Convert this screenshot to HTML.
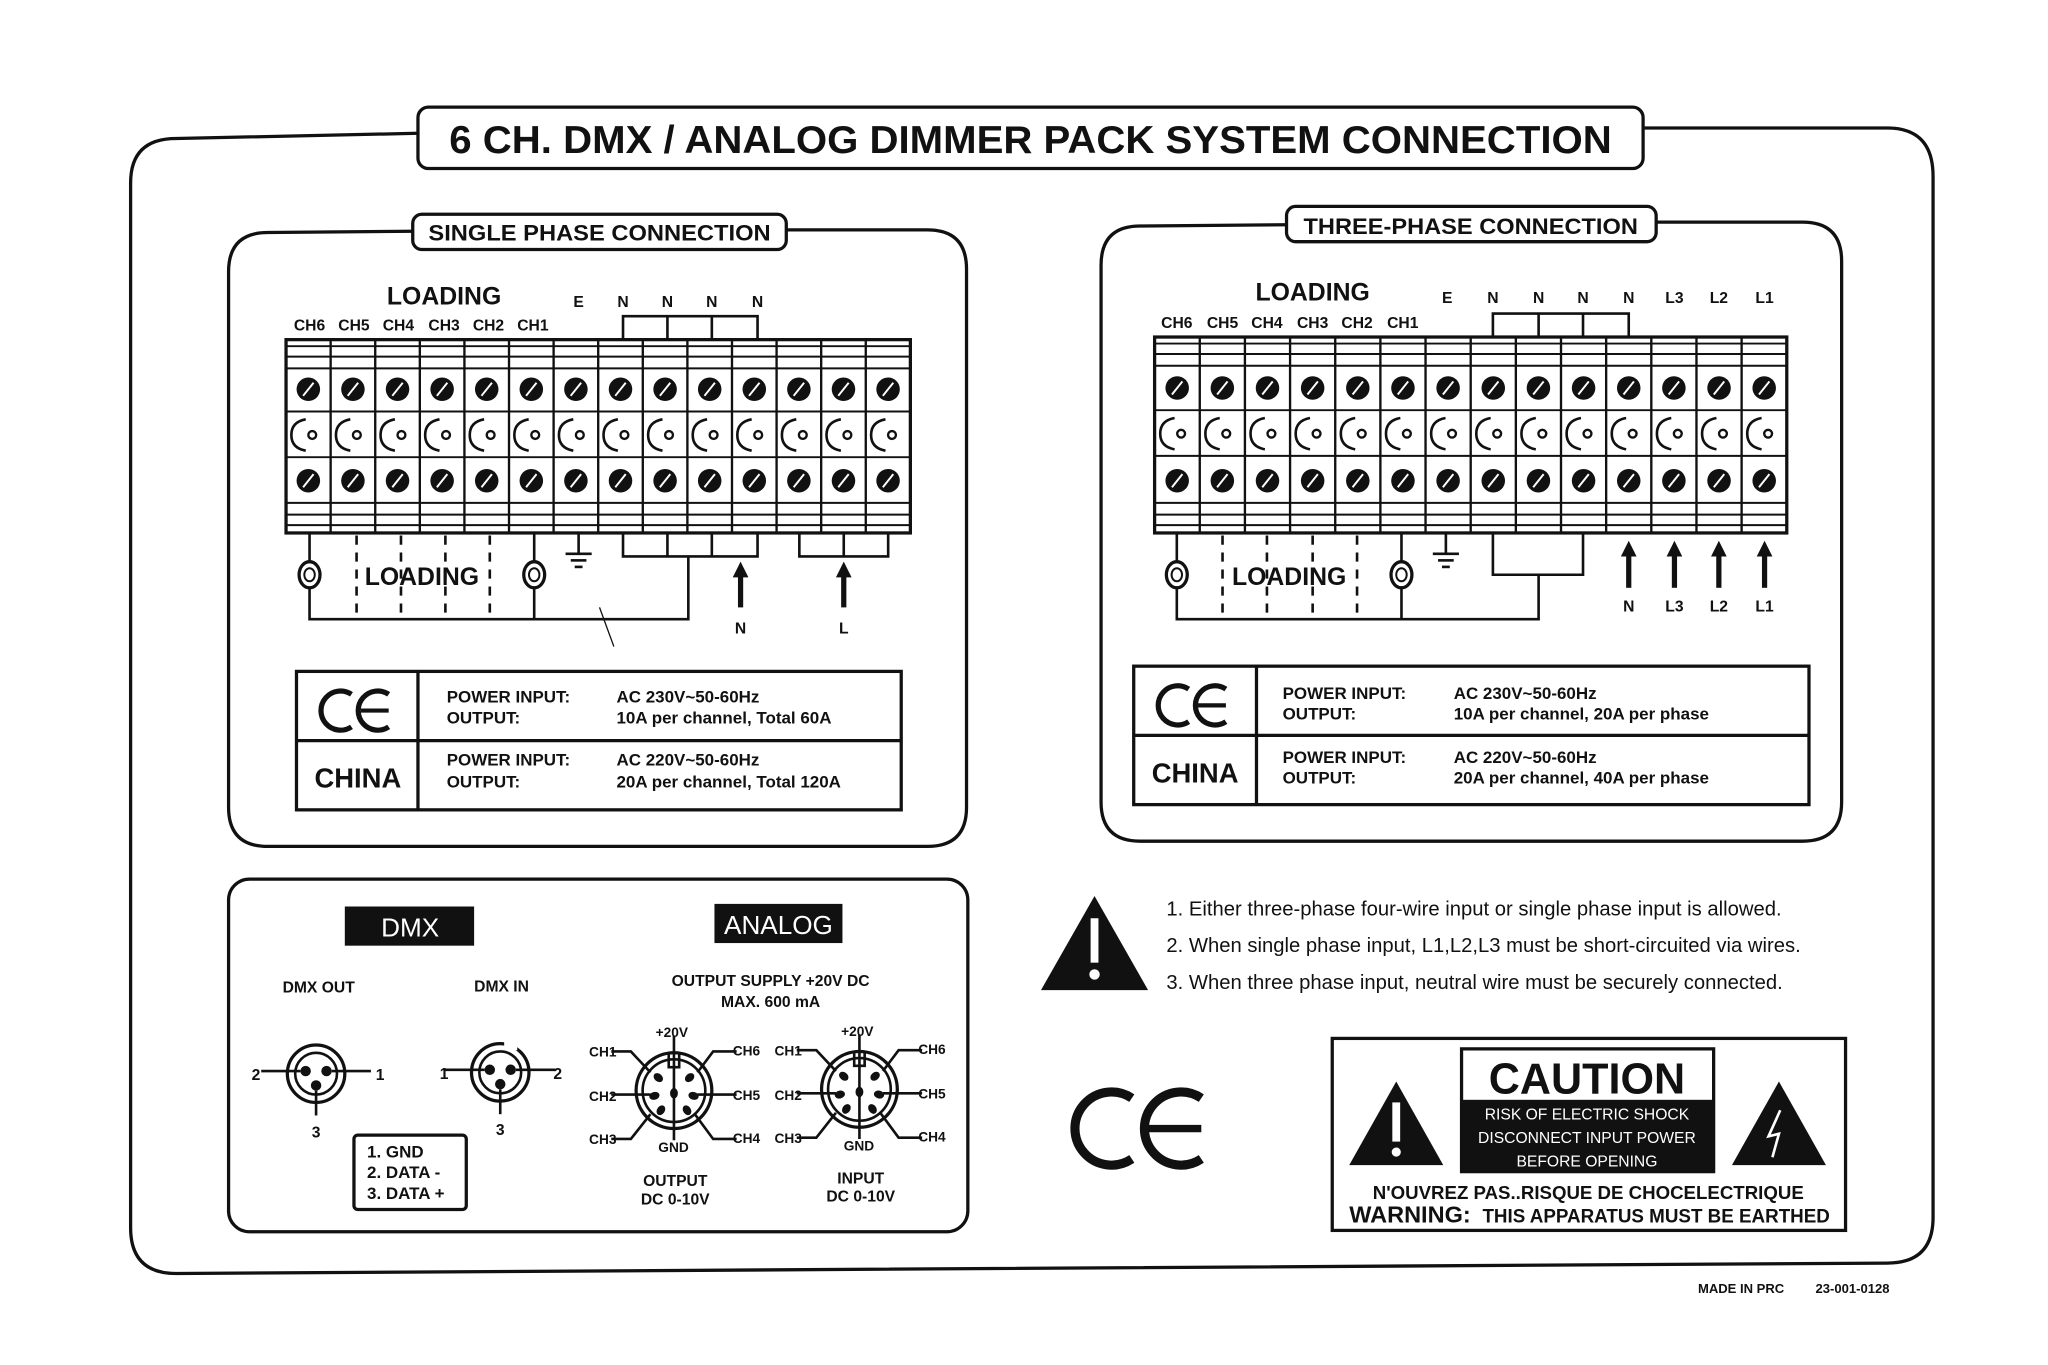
<!DOCTYPE html>
<html><head><meta charset="utf-8"><style>
html,body{margin:0;padding:0;background:#fff;}
svg{display:block;}
text{font-family:"Liberation Sans",sans-serif;font-weight:bold;fill:#111;}
text.w{fill:#fff;font-weight:normal;}
text.n{font-weight:normal;}
</style></head><body>
<svg id="s" width="2048" height="1365" viewBox="0 0 1568 1045" xmlns="http://www.w3.org/2000/svg">
<g fill="none" stroke="#111" stroke-width="2.5">
<path d="M320,102 L135,106 Q100,106 100,140 L100,940 Q100,975 135,975 L1445,967 Q1480,967 1480,932 L1480,135 Q1480,98 1445,98 L1258,98"/>
<rect x="320" y="82" width="938" height="47" rx="8"/>
<path d="M316,177 L205,178 Q175,178 175,208 L175,618 Q175,648 205,648 L710,648 Q740,648 740,618 L740,206 Q740,176 710,176 L602,176"/>
<rect x="316" y="164" width="286" height="27" rx="7"/>
<path d="M985,172 L873,173 Q843,173 843,203 L843,614 Q843,644 873,644 L1380,644 Q1410,644 1410,614 L1410,200 Q1410,170 1380,170 L1268,170"/>
<rect x="985" y="158" width="283" height="27" rx="7"/>
<rect x="175" y="673" width="566" height="270" rx="16"/>
<rect x="227" y="514" width="463" height="106"/>
<line x1="227" y1="567" x2="690" y2="567"/><line x1="320" y1="514" x2="320" y2="620"/>
<rect x="868" y="510" width="517" height="106"/>
<line x1="868" y1="563" x2="1385" y2="563"/><line x1="962" y1="510" x2="962" y2="616"/>
<rect x="1020" y="795" width="393" height="147"/>
</g>
<g id="dyn"></g>
<text x="789" y="117" font-size="30" text-anchor="middle" textLength="890" lengthAdjust="spacingAndGlyphs">6 CH. DMX / ANALOG DIMMER PACK SYSTEM CONNECTION</text>
<text x="459" y="184" font-size="17" text-anchor="middle" textLength="262" lengthAdjust="spacingAndGlyphs">SINGLE PHASE CONNECTION</text>
<text x="1126" y="179" font-size="17" text-anchor="middle" textLength="256" lengthAdjust="spacingAndGlyphs">THREE-PHASE CONNECTION</text>
<text x="340" y="233" font-size="19" text-anchor="middle">LOADING</text>
<g font-size="12" text-anchor="middle">
<text x="237" y="253">CH6</text><text x="271" y="253">CH5</text><text x="305" y="253">CH4</text><text x="340" y="253">CH3</text><text x="374" y="253">CH2</text><text x="408" y="253">CH1</text>
<text x="443" y="235">E</text><text x="477" y="235">N</text><text x="511" y="235">N</text><text x="545" y="235">N</text><text x="580" y="235">N</text>
<text x="567" y="485">N</text><text x="646" y="485">L</text>
</g>
<text x="323" y="448" font-size="19" text-anchor="middle">LOADING</text>
<text x="1005" y="230" font-size="19" text-anchor="middle">LOADING</text>
<g font-size="12" text-anchor="middle">
<text x="901" y="251">CH6</text><text x="936" y="251">CH5</text><text x="970" y="251">CH4</text><text x="1005" y="251">CH3</text><text x="1039" y="251">CH2</text><text x="1074" y="251">CH1</text>
<text x="1108" y="232">E</text><text x="1143" y="232">N</text><text x="1178" y="232">N</text><text x="1212" y="232">N</text><text x="1247" y="232">N</text><text x="1282" y="232">L3</text><text x="1316" y="232">L2</text><text x="1351" y="232">L1</text>
<text x="1247" y="468">N</text><text x="1282" y="468">L3</text><text x="1316" y="468">L2</text><text x="1351" y="468">L1</text>
</g>
<text x="987" y="448" font-size="19" text-anchor="middle">LOADING</text>
<text x="274" y="603" font-size="21" text-anchor="middle">CHINA</text>
<g font-size="13"><text x="342" y="538">POWER INPUT:</text><text x="342" y="554">OUTPUT:</text><text x="472" y="538">AC 230V~50-60Hz</text><text x="472" y="554">10A per channel, Total 60A</text>
<text x="342" y="586">POWER INPUT:</text><text x="342" y="603">OUTPUT:</text><text x="472" y="586">AC 220V~50-60Hz</text><text x="472" y="603">20A per channel, Total 120A</text></g>
<text x="915" y="599" font-size="21" text-anchor="middle">CHINA</text>
<g font-size="13"><text x="982" y="535">POWER INPUT:</text><text x="982" y="551">OUTPUT:</text><text x="1113" y="535">AC 230V~50-60Hz</text><text x="1113" y="551">10A per channel, 20A per phase</text>
<text x="982" y="584">POWER INPUT:</text><text x="982" y="600">OUTPUT:</text><text x="1113" y="584">AC 220V~50-60Hz</text><text x="1113" y="600">20A per channel,  40A per phase</text></g>
<rect x="264" y="694" width="99" height="30" fill="#111"/>
<text x="314" y="717" font-size="20" text-anchor="middle" class="w">DMX</text>
<rect x="547" y="692" width="98" height="30" fill="#111"/>
<text x="596" y="715" font-size="20" text-anchor="middle" class="w">ANALOG</text>
<g font-size="12" text-anchor="middle">
<text x="244" y="760">DMX OUT</text><text x="384" y="759">DMX IN</text>
<text x="590" y="755">OUTPUT SUPPLY +20V DC</text><text x="590" y="771">MAX. 600 mA</text>
<text x="196" y="827">2</text><text x="291" y="827">1</text><text x="242" y="871">3</text>
<text x="340" y="826">1</text><text x="427" y="826">2</text><text x="383" y="869">3</text>
<text x="517" y="908">OUTPUT</text><text x="517" y="922">DC 0-10V</text>
<text x="659" y="906">INPUT</text><text x="659" y="920">DC 0-10V</text>
</g>
<rect x="271" y="869" width="86" height="57" fill="none" stroke="#111" stroke-width="2.5" rx="3"/>
<g font-size="13"><text x="281" y="886">1. GND</text><text x="281" y="902">2. DATA -</text><text x="281" y="918">3. DATA +</text></g>
<g font-size="10.5">
<text x="502" y="794">+20V</text><text x="451" y="809">CH1</text><text x="451" y="843">CH2</text><text x="451" y="876">CH3</text>
<text x="561" y="808">CH6</text><text x="561" y="842">CH5</text><text x="561" y="875">CH4</text><text x="504" y="882">GND</text>
<text x="644" y="793">+20V</text><text x="593" y="808">CH1</text><text x="593" y="842">CH2</text><text x="593" y="875">CH3</text>
<text x="703" y="807">CH6</text><text x="703" y="841">CH5</text><text x="703" y="874">CH4</text><text x="646" y="881">GND</text>
</g>
<polygon points="838,686 797,758 879,758" fill="#111"/>
<rect x="835" y="703" width="6" height="34" fill="#fff"/><circle cx="838" cy="746" r="4" fill="#fff"/>
<g font-size="15.5">
<text x="893" y="701" class="n">1. Either three-phase four-wire input or single phase input is allowed.</text>
<text x="893" y="729" class="n">2. When single phase input, L1,L2,L3 must be short-circuited via wires.</text>
<text x="893" y="757" class="n">3. When three phase input, neutral wire must be securely connected.</text>
</g>
<rect x="1119" y="803" width="193" height="94" fill="none" stroke="#111" stroke-width="2.5"/>
<rect x="1119" y="842" width="193" height="55" fill="#111"/>
<text x="1215" y="837" font-size="33" text-anchor="middle">CAUTION</text>
<g font-size="12" text-anchor="middle">
<text x="1215" y="857" class="w">RISK OF ELECTRIC SHOCK</text><text x="1215" y="875" class="w">DISCONNECT INPUT POWER</text><text x="1215" y="893" class="w">BEFORE OPENING</text></g>
<polygon points="1069,828 1033,892 1105,892" fill="#111"/>
<rect x="1066" y="844" width="6" height="30" fill="#fff"/><circle cx="1069" cy="882" r="3.5" fill="#fff"/>
<polygon points="1362,828 1326,892 1398,892" fill="#111"/>
<polyline points="1363,850 1354,870 1362,868 1357,886" fill="none" stroke="#fff" stroke-width="2"/>
<text x="1216" y="918" font-size="14" text-anchor="middle" textLength="330" lengthAdjust="spacingAndGlyphs">N'OUVREZ PAS..RISQUE DE CHOCELECTRIQUE</text>
<text x="1033" y="936" font-size="18" textLength="93" lengthAdjust="spacingAndGlyphs">WARNING:</text>
<text x="1135" y="936" font-size="14.5" textLength="266" lengthAdjust="spacingAndGlyphs">THIS APPARATUS MUST BE EARTHED</text>
<text x="1300" y="990" font-size="10">MADE IN PRC</text>
<text x="1390" y="990" font-size="10">23-001-0128</text>
</svg>
<script>
var NS="http://www.w3.org/2000/svg",g=document.getElementById("dyn");
function el(t,a){var e=document.createElementNS(NS,t);for(var k in a)e.setAttribute(k,a[k]);g.appendChild(e);return e;}
function line(x1,y1,x2,y2,w,d){var a={x1:x1,y1:y1,x2:x2,y2:y2,stroke:"#111","stroke-width":w||2};if(d)a["stroke-dasharray"]=d;el("line",a);}
function poly(p){el("polyline",{points:p,fill:"none",stroke:"#111","stroke-width":2});}
function block(x0,x1,y0,y1,sy){var n=14,w=(x1-x0)/n;
 el("rect",{x:x0,y:y0,width:x1-x0,height:y1-y0,fill:"none",stroke:"#111","stroke-width":2.5});
 [y0+5,y0+13,y0+22,sy[0]+17,sy[1]+17,y1-23,y1-14,y1-6].forEach(function(y){line(x0,y,x1,y,1.5);});
 for(var i=0;i<n;i++){var cx=x0+w*(i+.5);if(i>0)line(x0+w*i,y0,x0+w*i,y1,1.8);
  [sy[0],sy[2]].forEach(function(y){el("circle",{cx:cx,cy:y,r:9,fill:"#111"});el("line",{x1:cx-4,y1:y+5,x2:cx+4,y2:y-5,stroke:"#fff","stroke-width":1.5});});
  var y=sy[1];el("path",{d:"M"+(cx-2)+","+(y-12)+" Q"+(cx-13)+","+(y-10)+" "+(cx-13)+","+y+" Q"+(cx-13)+","+(y+10)+" "+(cx-2)+","+(y+12),fill:"none",stroke:"#111","stroke-width":2});
  el("circle",{cx:cx+3,cy:y,r:3,fill:"none",stroke:"#111","stroke-width":1.8});
 }}
function lamp(x,y){el("ellipse",{cx:x,cy:y,rx:8,ry:10,fill:"none",stroke:"#111","stroke-width":2.5});el("ellipse",{cx:x,cy:y,rx:4,ry:5,fill:"none",stroke:"#111","stroke-width":1.5});}
function gnd(x,y){line(x,y,x,y+16,2);line(x-10,y+16,x+10,y+16,2);line(x-6,y+21,x+6,y+21,2);line(x-3,y+26,x+3,y+26,2);}
function arrow(x,yb,yt){line(x,yb,x,yt+10,4);el("polygon",{points:(x-6)+","+(yt+12)+" "+(x+6)+","+(yt+12)+" "+x+","+yt,fill:"#111"});}
function bracket(xs,yA,yB){poly(xs[0]+","+yA+" "+xs[0]+","+yB+" "+xs[xs.length-1]+","+yB+" "+xs[xs.length-1]+","+yA);for(var i=1;i<xs.length-1;i++)line(xs[i],yA,xs[i],yB,2);}
function ce(cx,cy,h,sw){var r=h/2,dx=Math.cos(Math.PI/3.2)*r,dy=Math.sin(Math.PI/3.2)*r;
 var c1=cx-r*0.75,c2=cx+r*1.15;
 [c1,c2].forEach(function(x){el("path",{d:"M"+(x+dx)+","+(cy-dy)+" A"+r+","+r+" 0 1 0 "+(x+dx)+","+(cy+dy),fill:"none",stroke:"#111","stroke-width":sw});});
 line(c2-r+sw/2,cy,c2+dx,cy,sw*0.8);}
block(219,697,260,408,[298,333,368]);
bracket([477,511,545,580],260,242);
bracket([477,511,545,580],408,426);
bracket([612,646,680],408,426);
poly("237,408 237,430");poly("237,450 237,474 527,474 527,426");
poly("409,408 409,430");poly("409,450 409,474");
lamp(237,440);lamp(409,440);
[273,307,341,375].forEach(function(x){line(x,410,x,470,2,"7,6");});
gnd(443,408);
arrow(567,465,430);arrow(646,465,430);
line(459,465,470,495,1);
block(884,1368,258,408,[297,332,368]);
bracket([1143,1178,1212,1247],258,240);
poly("1143,408 1143,440 1212,440 1212,408");
poly("901,408 901,430");poly("901,450 901,474 1178,474 1178,440");
poly("1073,408 1073,430");poly("1073,450 1073,474");
lamp(901,440);lamp(1073,440);
[936,970,1005,1039].forEach(function(x){line(x,410,x,470,2,"7,6");});
gnd(1107,408);
[1247,1282,1316,1351].forEach(function(x){arrow(x,450,414);});
ce(272,544,30,4);ce(913,540,30,4);ce(872,864,56,7);
function xlr(cx,cy,female){
 el("circle",{cx:cx,cy:cy,r:22,fill:"none",stroke:"#111","stroke-width":2.5});
 if(female){el("rect",{x:cx+3,y:cy-26,width:10,height:9,fill:"#fff"});}
 el("circle",{cx:cx,cy:cy,r:16,fill:"none",stroke:"#111","stroke-width":2});
 [[-8,-2],[8,-2],[0,9]].forEach(function(p){el("circle",{cx:cx+p[0],cy:cy+p[1],r:4,fill:"#111"});});
 line(cx-42,cy-2,cx-12,cy-2,2);line(cx+12,cy-2,cx+42,cy-2,2);line(cx,cy+13,cx,cy+32,2);
}
xlr(242,822,false);xlr(383,821,true);
function din(cx,cy){
 el("circle",{cx:cx,cy:cy,r:29,fill:"none",stroke:"#111","stroke-width":2.5});
 el("circle",{cx:cx,cy:cy,r:24,fill:"none",stroke:"#111","stroke-width":2});
 line(cx,cy-42,cx,cy+38,2);
 poly((cx-4)+","+(cy-28)+" "+(cx-4)+","+(cy-18)+" "+(cx+4)+","+(cy-18)+" "+(cx+4)+","+(cy-28));
 [[-12,-10],[12,-10],[-15,4],[15,4],[-10,15],[10,15],[0,2]].forEach(function(p){el("ellipse",{cx:cx+p[0],cy:cy+p[1],rx:4,ry:3,fill:"#111",transform:"rotate("+(Math.atan2(p[1],p[0])*57.3)+" "+(cx+p[0])+" "+(cy+p[1])+")"});});
 poly((cx-48)+","+(cy-30)+" "+(cx-33)+","+(cy-30)+" "+(cx-18)+","+(cy-14));
 poly((cx+48)+","+(cy-30)+" "+(cx+30)+","+(cy-30)+" "+(cx+18)+","+(cy-14));
 line(cx-48,cy+3,cx-18,cy+3,2);line(cx+48,cy+3,cx+18,cy+3,2);
 poly((cx-48)+","+(cy+37)+" "+(cx-33)+","+(cy+37)+" "+(cx-18)+","+(cy+18));
 poly((cx+48)+","+(cy+37)+" "+(cx+30)+","+(cy+37)+" "+(cx+16)+","+(cy+18));
}
din(516,835);din(658,834);
</script>
</body></html>
